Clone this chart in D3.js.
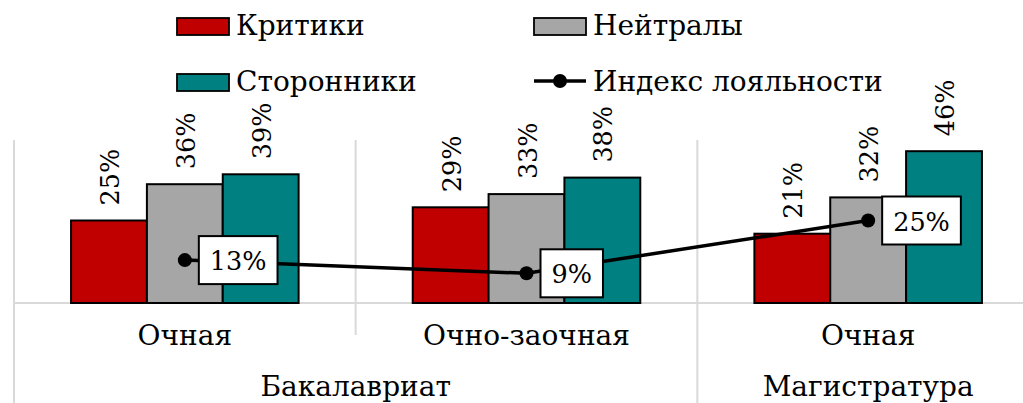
<!DOCTYPE html>
<html>
<head>
<meta charset="utf-8">
<script src="https://cdn.jsdelivr.net/npm/d3@7"></script>
<style>
  html, body { margin: 0; padding: 0; background: #fff; }
  svg { display: block; }
  text { font-family: "DejaVu Serif", serif; fill: #000; }
</style>
</head>
<body>
<svg id="chart" width="1023" height="403"></svg>
<script>
const categories = ["Очная", "Очно-заочная", "Очная"];
const groups = ["Бакалавриат", "Магистратура"];
const groupOfCategory = [0, 0, 1];
const seriesNames = ["Критики", "Нейтралы", "Сторонники"];
const critics = [25, 29, 21];
const neutrals = [36, 33, 32];
const supporters = [39, 38, 46];
const loyaltyName = "Индекс лояльности";
const loyalty = [13, 9, 25];

const colors = ["#C00000", "#A6A6A6", "#008080"];
const seriesValues = [critics, neutrals, supporters];

const svg = d3.select("#chart");
const FONT = 28, NUMFONT = 25.5;
const FAMILY = "DejaVu Serif";

const plotLeft = 14, plotRight = 1039, plotTop = 138, baseY = 303;

const x = d3.scaleBand().domain(d3.range(categories.length)).range([plotLeft, plotRight]).paddingInner(0).paddingOuter(0);
const bw = x.bandwidth();
const xs = d3.scaleBand().domain(d3.range(seriesNames.length)).range([bw * 0.167, bw * 0.833]).paddingInner(0);
const y = d3.scaleLinear().domain([0, 50]).range([baseY, plotTop]);

const grid = "#d9d9d9";
const seps = [
  {x: plotLeft, y2: 403},
  {x: x(1), y2: 335},
  {x: x(2), y2: 403}
];
svg.append("g").selectAll("line").data(seps).join("line")
  .attr("x1", d => d.x).attr("x2", d => d.x)
  .attr("y1", plotTop + 2).attr("y2", d => d.y2)
  .attr("stroke", grid).attr("stroke-width", 2);
svg.append("line").attr("x1", plotLeft).attr("x2", 1023)
  .attr("y1", baseY).attr("y2", baseY)
  .attr("stroke", grid).attr("stroke-width", 2);

const barData = [];
seriesValues.forEach((vals, s) => vals.forEach((v, c) => barData.push({s, c, v})));
svg.append("g").selectAll("rect").data(barData).join("rect")
  .attr("x", d => x(d.c) + xs(d.s))
  .attr("y", d => y(d.v))
  .attr("width", xs.bandwidth())
  .attr("height", d => y(0) - y(d.v))
  .attr("fill", d => colors[d.s])
  .attr("stroke", "#000").attr("stroke-width", 2);

svg.append("g").selectAll("text").data(barData).join("text")
  .attr("transform", d => `translate(${x(d.c) + xs(d.s) + xs.bandwidth() / 2 + 1},${y(d.v) - 15}) rotate(-90)`)
  .attr("text-anchor", "start")
  .attr("dominant-baseline", "central")
  .attr("font-family", FAMILY)
  .attr("font-size", NUMFONT)
  .text(d => d.v + "%");

const cx = c => x(c) + bw / 2;
const line = d3.line().x((d, i) => cx(i)).y(d => y(d));
svg.append("path").datum(loyalty).attr("d", line)
  .attr("fill", "none").attr("stroke", "#000").attr("stroke-width", 3.5);
svg.append("g").selectAll("circle").data(loyalty).join("circle")
  .attr("cx", (d, i) => cx(i)).attr("cy", d => y(d)).attr("r", 7).attr("fill", "#000");

const lbl = svg.append("g").selectAll("g").data(loyalty).join("g");
lbl.each(function(d, i) {
  const g = d3.select(this);
  const t = g.append("text")
    .attr("font-family", FAMILY)
    .attr("font-size", NUMFONT)
    .attr("dominant-baseline", "central")
    .text(d + "%");
  const w = t.node().getComputedTextLength();
  const bx = cx(i) + 14, by = y(d) - 24;
  g.insert("rect", "text")
    .attr("x", bx).attr("y", by).attr("width", w + 22).attr("height", 48)
    .attr("fill", "#fff").attr("stroke", "#000").attr("stroke-width", 2);
  t.attr("x", bx + 11).attr("y", y(d) + 1);
});

svg.append("g").selectAll("text").data(categories).join("text")
  .attr("x", (d, i) => cx(i)).attr("y", 345)
  .attr("text-anchor", "middle").attr("font-family", FAMILY).attr("font-size", FONT)
  .text(d => d);

const groupSpan = groups.map((g, gi) => {
  const idx = d3.range(categories.length).filter(i => groupOfCategory[i] === gi);
  return {name: g, x0: x(idx[0]), x1: x(idx[idx.length - 1]) + bw};
});
svg.append("g").selectAll("text").data(groupSpan).join("text")
  .attr("x", d => (d.x0 + d.x1) / 2).attr("y", 396)
  .attr("text-anchor", "middle").attr("font-family", FAMILY).attr("font-size", FONT)
  .text(d => d.name);

const legendItems = [
  {name: seriesNames[0], type: "rect", color: colors[0], bx: 177, by: 35},
  {name: seriesNames[1], type: "rect", color: colors[1], bx: 534, by: 35},
  {name: seriesNames[2], type: "rect", color: colors[2], bx: 177, by: 91},
  {name: loyaltyName, type: "line", color: "#000", bx: 534, by: 91}
];
const lg = svg.append("g").selectAll("g").data(legendItems).join("g");
lg.each(function(d) {
  const g = d3.select(this);
  if (d.type === "rect") {
    g.append("rect").attr("x", d.bx).attr("y", d.by - 17).attr("width", 52).attr("height", 17)
      .attr("fill", d.color).attr("stroke", "#000").attr("stroke-width", 1.8);
  } else {
    g.append("line").attr("x1", d.bx).attr("x2", d.bx + 52).attr("y1", d.by - 10).attr("y2", d.by - 10)
      .attr("stroke", "#000").attr("stroke-width", 3.5);
    g.append("circle").attr("cx", d.bx + 26).attr("cy", d.by - 10).attr("r", 7).attr("fill", "#000");
  }
  g.append("text").attr("x", d.bx + 59).attr("y", d.by)
    .attr("font-family", FAMILY).attr("font-size", FONT).text(d.name);
});
</script>
</body>
</html>
